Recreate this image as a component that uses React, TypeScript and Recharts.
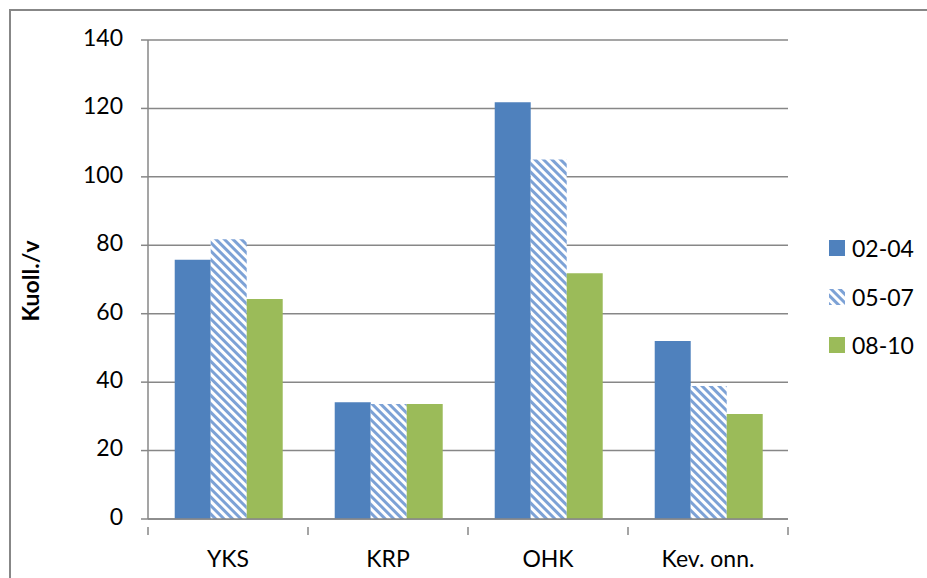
import React from 'react';
import { BarChart, Bar, XAxis, YAxis, CartesianGrid } from 'recharts';

// Fatalities per year by road category, three-year periods
const categories = ['YKS', 'KRP', 'OHK', 'Kev. onn.'];
const period0204 = [75.8, 34.1, 121.8, 52.0];
const period0507 = [81.8, 33.6, 105.1, 38.9];
const period0810 = [64.3, 33.6, 71.8, 30.7];
const yTicks = [0, 20, 40, 60, 80, 100, 120, 140];

const seriesNames = ['02-04', '05-07', '08-10'];

const data = categories.map((name, i) => ({
  name,
  a: period0204[i],
  b: period0507[i],
  c: period0810[i],
}));

const FONT = 'Lato, "Open Sans", sans-serif';
const FS = 23;
const GRID = '#878787';
const BLUE = '#4F81BD';
const GREEN = '#9BBB59';
const STRIPE = '#7DA2D6';

const legendItems = [
  { name: seriesNames[0], fill: BLUE },
  { name: seriesNames[1], fill: 'url(#diagStripe)' },
  { name: seriesNames[2], fill: GREEN },
];

const LegendBox = () => (
  <div style={{ fontFamily: FONT }}>
    {legendItems.map((it) => (
      <div key={it.name} style={{ display: 'flex', alignItems: 'center', height: 48.5 }}>
        <svg width={16} height={16} style={{ marginRight: 7 }}>
          <rect x={0} y={0} width={16} height={16} fill={it.fill} />
        </svg>
        <span style={{ fontSize: FS, color: '#000' }}>{it.name}</span>
      </div>
    ))}
  </div>
);

const CategoryTick = (props: any) => {
  const { x, y, payload, index } = props;
  const half = payload && payload.offset ? payload.offset : 80;
  const last = index === categories.length - 1;
  return (
    <g>
      <line x1={x - half} y1={y} x2={x - half} y2={y + 8} stroke={GRID} strokeWidth={1.5} />
      {last && <line x1={x + half} y1={y} x2={x + half} y2={y + 8} stroke={GRID} strokeWidth={1.5} />}
      <text x={x} y={y + 34} textAnchor="middle" dominantBaseline="middle" fontFamily={FONT} fontSize={FS} fill="#000">
        {payload.value}
      </text>
    </g>
  );
};

const ValueTick = (props: any) => {
  const { x, y, payload } = props;
  return (
    <text x={x} y={y} textAnchor="end" dominantBaseline="middle" fontFamily={FONT} fontSize={FS} fill="#000">
      {payload.value}
    </text>
  );
};

export default function App() {
  return (
    <div style={{ position: 'absolute', left: 0, top: 0, width: 927, height: 578, overflow: 'hidden', background: '#fff' }}>
      <svg width={0} height={0} style={{ position: 'absolute' }}>
        <defs>
          <pattern id="diagStripe" patternUnits="userSpaceOnUse" width={6} height={6} patternTransform="rotate(-45)">
            <rect x={0} y={0} width={6} height={6} fill="#ffffff" />
            <line x1={1.5} y1={0} x2={1.5} y2={6} stroke={STRIPE} strokeWidth={3} />
          </pattern>
        </defs>
      </svg>
      <div
        style={{
          position: 'absolute',
          left: 9,
          top: 9,
          width: 1000,
          height: 700,
          border: `2px solid ${GRID}`,
        }}
      />
      <div style={{ position: 'absolute', left: 0, top: 0 }}>
        <BarChart
          width={927}
          height={578}
          data={data}
          margin={{ top: 40, right: 139, bottom: 19, left: 88 }}
          barCategoryGap="16.7%"
          barGap={0}
        >
          <CartesianGrid vertical={false} stroke={GRID} strokeWidth={1.5} />
          <XAxis
            dataKey="name"
            height={40}
            axisLine={{ stroke: GRID, strokeWidth: 1.5 }}
            tickLine={false}
            tick={<CategoryTick />}
            interval={0}
          />
          <YAxis
            width={60}
            domain={[0, 140]}
            ticks={yTicks}
            interval={0}
            axisLine={{ stroke: GRID, strokeWidth: 1.5 }}
            tickLine={{ stroke: GRID, strokeWidth: 1.5 }}
            tickSize={7}
            tickMargin={18}
            tick={<ValueTick />}
            label={{
              content: () => (
                <text
                  x={33}
                  y={281}
                  transform="rotate(-90 33 281)"
                  textAnchor="middle"
                  dominantBaseline="middle"
                  fontFamily={FONT}
                  fontSize={FS}
                  fontWeight="bold"
                  fill="#000"
                >
                  Kuoll./v
                </text>
              ),
            }}
          />
          <Bar dataKey="a" name={seriesNames[0]} fill={BLUE} isAnimationActive={false} />
          <Bar dataKey="b" name={seriesNames[1]} fill="url(#diagStripe)" isAnimationActive={false} />
          <Bar dataKey="c" name={seriesNames[2]} fill={GREEN} isAnimationActive={false} />
        </BarChart>
      </div>
      <div style={{ position: 'absolute', left: 829, top: 224 }}>
        <LegendBox />
      </div>
    </div>
  );
}
